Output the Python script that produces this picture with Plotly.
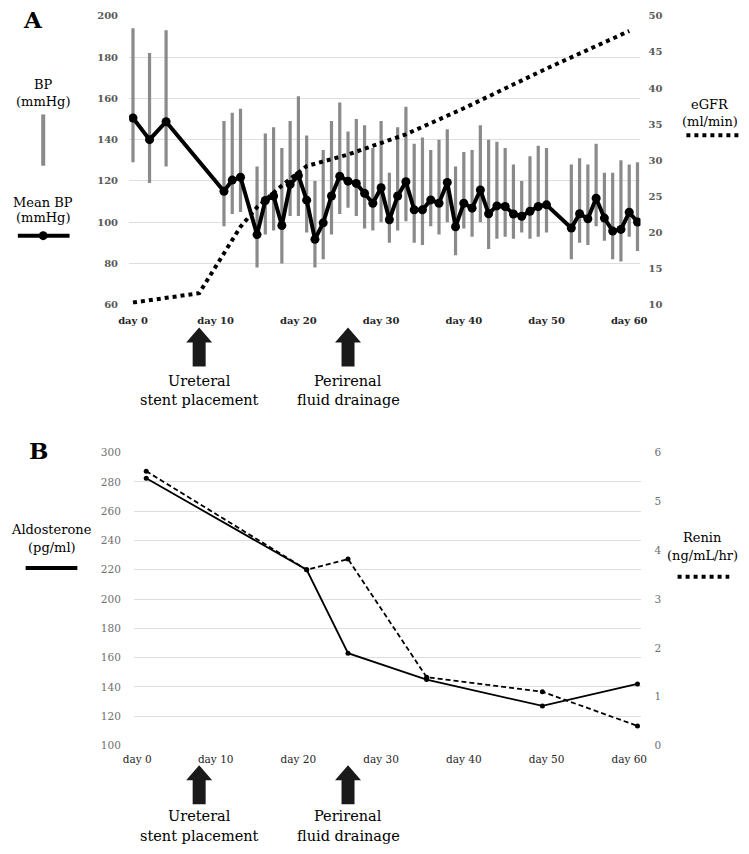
import numpy as np
import plotly.graph_objects as go

# ---------------- Panel A data ----------------
bp_days = [0, 2, 4, 11, 12, 13, 15, 16, 17, 18, 19, 20, 21, 22, 23, 24, 25, 26, 27, 28, 29, 30,
           31, 32, 33, 34, 35, 36, 37, 38, 39, 40, 41, 42, 43, 44, 45, 46, 47, 48, 49, 50,
           53, 54, 55, 56, 57, 58, 59, 60, 61]
mean_bp = [150.5, 140, 148.7, 115, 120.4, 121.8, 94, 110.5, 112.7, 98.4, 118.3, 122.6, 110.7, 91.7,
           99.7, 112.7, 122.3, 119.9, 118.8, 114, 109.2, 116.7, 101.2, 112.7, 119.6, 106, 106, 110.8,
           109.2, 119.3, 97.8, 109.2, 106.8, 115.6, 104.1, 107.9, 107.6, 104, 102.9, 105.3, 107.6,
           108.4, 97.2, 104.1, 101.7, 111.6, 102, 95.7, 96.5, 104.8, 100.1]
bp_high = [194, 182, 193, 149, 153, 155, 127, 143, 146, 136, 149, 161, 142, 120, 135, 149, 158, 144,
           150, 147, 136, 149, 124, 146, 156, 138, 141, 135, 140, 145, 127, 134, 135, 147, 140, 139,
           136, 128, 120, 132, 137, 136, 128, 131, 128, 138, 124, 124, 130, 128, 129]
bp_low = [129, 119, 127, 98, 104, 105, 78, 94, 96, 80, 103, 103, 95, 78, 82, 94, 104, 107, 103, 97,
          96, 100, 90, 96, 100.5, 90, 89, 98, 94, 100, 84, 97, 93, 100, 87, 92, 93, 92, 95, 92, 93,
          95, 82, 90, 89, 98, 91, 82, 81, 93, 86]

egfr_days = [0, 8, 13, 15, 18, 21, 26, 33, 40, 50, 60]
egfr = [10.3, 11.6, 20.8, 23.5, 26.5, 29.2, 30.8, 33.6, 37.2, 42.7, 47.9]

# ---------------- Panel B data ----------------
lab_days = [1.6, 21, 26, 35.5, 49.5, 61]
aldosterone = [282.5, 220, 163, 145, 127, 142]
renin = [5.62, 3.6, 3.82, 1.4, 1.1, 0.4]

# ---------------- shared labels ----------------
day_ticks = [0, 10, 20, 30, 40, 50, 60]
day_labels = ["day " + str(d) for d in day_ticks]
event_days = [8, 26]
event_line1 = ["Ureteral", "Perirenal"]
event_line2 = ["stent placement", "fluid drainage"]

W, H = 749, 854
SERIF = "DejaVu Serif"
CLEAR = "rgba(0,0,0,0)"


def px(x):
    return x / W


def py(y):
    return 1 - y / H


fig = go.Figure()

# BP range bars (grey vertical lines)
bx, by = [], []
for d, lo, hi in zip(bp_days, bp_low, bp_high):
    bx += [d, d, None]
    by += [lo, hi, None]
fig.add_trace(go.Scatter(x=bx, y=by, mode="lines", line=dict(color="#8a8a8a", width=3.2),
                         xaxis="x", yaxis="y", hoverinfo="skip", showlegend=False))

# eGFR dotted line (right axis)
fig.add_trace(go.Scatter(x=egfr_days, y=egfr, mode="lines",
                         line=dict(color="black", width=4, dash="4px,4px"),
                         xaxis="x", yaxis="y2", showlegend=False))

# Mean BP
fig.add_trace(go.Scatter(x=bp_days, y=mean_bp, mode="lines+markers",
                         line=dict(color="black", width=4),
                         marker=dict(color="black", size=9),
                         xaxis="x", yaxis="y", showlegend=False))

# Panel B
fig.add_trace(go.Scatter(x=lab_days, y=aldosterone, mode="lines+markers",
                         line=dict(color="black", width=1.8), marker=dict(color="black", size=5),
                         xaxis="x3", yaxis="y3", showlegend=False))
fig.add_trace(go.Scatter(x=lab_days, y=renin, mode="lines+markers",
                         line=dict(color="black", width=1.8, dash="5px,3px"),
                         marker=dict(color="black", size=5),
                         xaxis="x3", yaxis="y4", showlegend=False))

ppd = 8.474  # pixels per day
x0A = 125
tickfontA = dict(family=SERIF, size=10, color="#595959", weight="bold")
xfontA = dict(family=SERIF, size=10, color="#262626", weight="bold")
xfontB = dict(family=SERIF, size=10.5, color="#262626")
tickfontB = dict(family=SERIF, size=10.5, color="#707070")

fig.update_layout(
    width=W, height=H, margin=dict(l=0, r=0, t=0, b=0),
    paper_bgcolor="white", plot_bgcolor="white",
    xaxis=dict(domain=[px(121), px(645)], range=[(121 - x0A) / ppd, (645 - x0A) / ppd],
               tickvals=day_ticks, ticktext=day_labels, showgrid=False, zeroline=False,
               showline=False, ticks="outside", ticklen=6, tickcolor=CLEAR, tickfont=xfontA,
               anchor="y"),
    yaxis=dict(domain=[py(303), py(10)], range=[60, 200], dtick=20, gridcolor="#dedede",
               gridwidth=1, zeroline=False, showline=False, ticks="outside", ticklen=8,
               tickcolor=CLEAR, tickfont=tickfontA, anchor="x"),
    yaxis2=dict(overlaying="y", side="right", range=[10, 50], dtick=5, showgrid=False,
                zeroline=False, showline=False, ticks="outside", ticklen=5, tickcolor=CLEAR,
                tickfont=tickfontA, anchor="x"),
    xaxis3=dict(domain=[px(126), px(646)], range=[(126 - x0A) / ppd, (646 - x0A) / ppd],
                tickvals=[0.5] + day_ticks[1:], ticktext=day_labels, showgrid=False,
                zeroline=False, showline=False, ticks="outside", ticklen=4, tickcolor=CLEAR,
                tickfont=xfontB, anchor="y3"),
    yaxis3=dict(domain=[py(750), py(453)], range=[100, 300], dtick=20, gridcolor="#dedede",
                zeroline=False, showline=False, ticks="outside", ticklen=10, tickcolor=CLEAR,
                anchor="x3", tickfont=tickfontB),
    yaxis4=dict(overlaying="y3", side="right", range=[0, 6], dtick=1, showgrid=False,
                zeroline=False, showline=False, ticks="outside", ticklen=10, tickcolor=CLEAR,
                anchor="x3", tickfont=tickfontB),
)

ann = []
shapes = []


def text(x, y, s, size=13, bold=False):
    ann.append(dict(x=px(x), y=py(y), xref="paper", yref="paper",
                    text=("<b>%s</b>" % s) if bold else s,
                    showarrow=False, xanchor="center", yanchor="middle",
                    font=dict(family=SERIF, size=size, color="black")))


# Panel letters
text(23, 14, "A", 23, True)
text(28, 451, "B", 23, True)

# Legend-like labels panel A
text(33, 80, "BP")
text(33, 97, "(mmHg)")
shapes.append(dict(type="line", xref="paper", yref="paper", x0=px(33), x1=px(33), y0=py(110),
                   y1=py(162), line=dict(color="#8a8a8a", width=4)))
text(33, 199, "Mean BP")
text(33, 215, "(mmHg)")
shapes.append(dict(type="line", xref="paper", yref="paper", x0=px(7), x1=px(60), y0=py(233),
                   y1=py(233), line=dict(color="black", width=4)))
shapes.append(dict(type="circle", xref="paper", yref="paper", x0=px(28.5), x1=px(37.5),
                   y0=py(228.5), y1=py(237.5), fillcolor="black", line=dict(width=0)))
text(716, 100, "eGFR")
text(716, 117, "(ml/min)")
shapes.append(dict(type="line", xref="paper", yref="paper", x0=px(692), x1=px(747), y0=py(131),
                   y1=py(131), line=dict(color="black", width=4, dash="4px,4px")))

# Legend-like labels panel B
text(42, 531, "Aldosterone")
text(42, 549, "(pg/ml)")
shapes.append(dict(type="line", xref="paper", yref="paper", x0=px(15), x1=px(68), y0=py(570),
                   y1=py(570), line=dict(color="black", width=4)))
text(709, 539, "Renin")
text(709, 557, "(ng/mL/hr)")
shapes.append(dict(type="line", xref="paper", yref="paper", x0=px(683), x1=px(736), y0=py(579),
                   y1=py(579), line=dict(color="black", width=4, dash="4px,4px")))

# Event arrows and captions
arrow_path = "M 0 0 L 13 -15 L 6.5 -15 L 6.5 -39 L -6.5 -39 L -6.5 -15 L -13 -15 Z"
for xa, tip_y, ty1 in [("x", 326, 380), ("x3", 770, 822)]:
    for d, l1, l2 in zip(event_days, event_line1, event_line2):
        shapes.append(dict(type="path", xref=xa, yref="paper", xsizemode="pixel",
                           ysizemode="pixel", xanchor=d, yanchor=py(tip_y), path=arrow_path,
                           fillcolor="#1a1a1a", line=dict(width=0)))
        ann.append(dict(x=d, y=py(ty1), xref=xa, yref="paper", text=l1, showarrow=False,
                        xanchor="center", yanchor="middle",
                        font=dict(family=SERIF, size=14.5, color="black")))
        ann.append(dict(x=d, y=py(ty1 + 20), xref=xa, yref="paper", text=l2, showarrow=False,
                        xanchor="center", yanchor="middle",
                        font=dict(family=SERIF, size=14.5, color="black")))

fig.update_layout(annotations=ann, shapes=shapes)
fig.write_html("out.html", config={"displayModeBar": False},
               post_script="document.body.style.margin='0';document.body.style.padding='0';"
                           "document.body.style.overflow='hidden';")
